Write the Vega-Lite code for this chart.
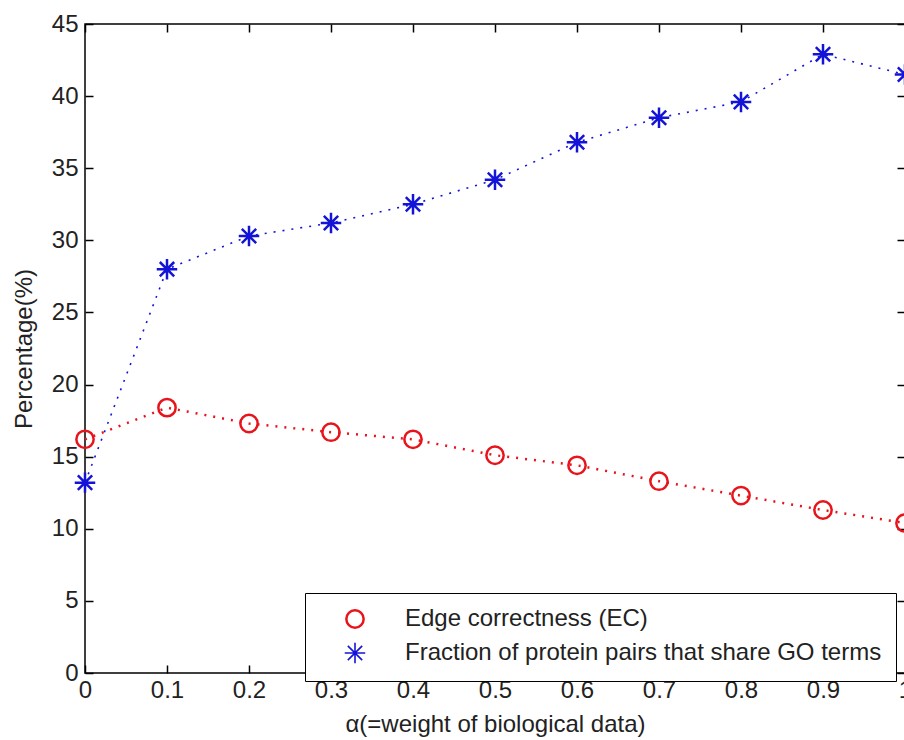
{
  "$schema": "https://vega.github.io/schema/vega-lite/v6.json",
  "autosize": {"type": "none"},
  "padding": {"left": 85, "top": 24, "right": 0, "bottom": 67},
  "width": 820,
  "height": 649,
  "background": "white",
  "config": {
    "view": {"stroke": "black", "strokeWidth": 1.5},
    "axis": {
      "grid": false,
      "domain": false,
      "tickColor": "black",
      "tickWidth": 1.5,
      "tickSize": 8,
      "offset": -8,
      "labelFlush": false,
      "labelFont": "Liberation Sans",
      "labelFontSize": 24,
      "labelColor": "#222",
      "titleFont": "Liberation Sans",
      "titleFontSize": 24,
      "titleFontWeight": "normal",
      "titleColor": "#222"
    },
    "legend": {
      "labelFont": "Liberation Sans",
      "labelFontSize": 24,
      "labelColor": "#222"
    }
  },
  "data": {
    "values": [
      {"alpha": 0.0, "value": 16.2, "series": "Edge correctness (EC)"},
      {"alpha": 0.1, "value": 18.4, "series": "Edge correctness (EC)"},
      {"alpha": 0.2, "value": 17.3, "series": "Edge correctness (EC)"},
      {"alpha": 0.3, "value": 16.7, "series": "Edge correctness (EC)"},
      {"alpha": 0.4, "value": 16.2, "series": "Edge correctness (EC)"},
      {"alpha": 0.5, "value": 15.1, "series": "Edge correctness (EC)"},
      {"alpha": 0.6, "value": 14.4, "series": "Edge correctness (EC)"},
      {"alpha": 0.7, "value": 13.3, "series": "Edge correctness (EC)"},
      {"alpha": 0.8, "value": 12.3, "series": "Edge correctness (EC)"},
      {"alpha": 0.9, "value": 11.3, "series": "Edge correctness (EC)"},
      {"alpha": 1.0, "value": 10.4, "series": "Edge correctness (EC)"},
      {"alpha": 0.0, "value": 13.2, "series": "Fraction of protein pairs that share GO terms"},
      {"alpha": 0.1, "value": 28.0, "series": "Fraction of protein pairs that share GO terms"},
      {"alpha": 0.2, "value": 30.3, "series": "Fraction of protein pairs that share GO terms"},
      {"alpha": 0.3, "value": 31.2, "series": "Fraction of protein pairs that share GO terms"},
      {"alpha": 0.4, "value": 32.5, "series": "Fraction of protein pairs that share GO terms"},
      {"alpha": 0.5, "value": 34.2, "series": "Fraction of protein pairs that share GO terms"},
      {"alpha": 0.6, "value": 36.8, "series": "Fraction of protein pairs that share GO terms"},
      {"alpha": 0.7, "value": 38.5, "series": "Fraction of protein pairs that share GO terms"},
      {"alpha": 0.8, "value": 39.6, "series": "Fraction of protein pairs that share GO terms"},
      {"alpha": 0.9, "value": 42.9, "series": "Fraction of protein pairs that share GO terms"},
      {"alpha": 1.0, "value": 41.5, "series": "Fraction of protein pairs that share GO terms"}
    ]
  },
  "layer": [
    {
      "mark": {"type": "line", "strokeDash": [2, 7], "clip": false},
      "encoding": {
        "x": {
          "field": "alpha", "type": "quantitative",
          "scale": {"domain": [0, 1], "nice": false, "zero": false},
          "axis": {
            "orient": "bottom",
            "values": [0, 0.1, 0.2, 0.3, 0.4, 0.5, 0.6, 0.7, 0.8, 0.9, 1],
            "format": "~g",
            "labelFontSize": 24,
            "labelPadding": 5,
            "title": "α(=weight of biological data)",
            "titlePadding": 10
          }
        },
        "y": {
          "field": "value", "type": "quantitative",
          "scale": {"domain": [0, 45], "nice": false},
          "axis": {
            "orient": "left",
            "values": [0, 5, 10, 15, 20, 25, 30, 35, 40, 45],
            "labelFontSize": 24,
            "labelPadding": 7,
            "title": "Percentage(%)",
            "titlePadding": 15
          }
        },
        "color": {
          "field": "series", "type": "nominal",
          "scale": {
            "domain": ["Edge correctness (EC)", "Fraction of protein pairs that share GO terms"],
            "range": ["#e8141c", "#1414d8"]
          },
          "legend": {
            "orient": "none",
            "legendX": 220,
            "legendY": 569,
            "title": null,
            "fillColor": "white",
            "strokeColor": "black",
            "padding": 14,
            "rowPadding": 6,
            "symbolOffset": 24,
            "symbolSize": 200,
            "symbolStrokeWidth": 2,
            "labelOffset": 38,
            "labelLimit": 900
          }
        },
        "strokeWidth": {
          "field": "series", "type": "nominal",
          "scale": {
            "domain": ["Edge correctness (EC)", "Fraction of protein pairs that share GO terms"],
            "range": [2.5, 1.6]
          },
          "legend": null
        }
      }
    },
    {
      "mark": {"type": "point", "filled": false, "strokeWidth": 2.5, "opacity": 1, "clip": false},
      "encoding": {
        "x": {
          "field": "alpha", "type": "quantitative",
          "axis": {
            "orient": "top",
            "values": [0, 0.1, 0.2, 0.3, 0.4, 0.5, 0.6, 0.7, 0.8, 0.9, 1],
            "labels": false, "title": null
          }
        },
        "y": {
          "field": "value", "type": "quantitative",
          "axis": {
            "orient": "right",
            "values": [0, 5, 10, 15, 20, 25, 30, 35, 40, 45],
            "labels": false, "title": null
          }
        },
        "color": {"field": "series", "type": "nominal"},
        "shape": {
          "field": "series", "type": "nominal",
          "scale": {
            "domain": ["Edge correctness (EC)", "Fraction of protein pairs that share GO terms"],
            "range": ["circle", "M-1,0L1,0M0,-1L0,1M-0.7,-0.7L0.7,0.7M-0.7,0.7L0.7,-0.7"]
          }
        },
        "size": {
          "field": "series", "type": "nominal",
          "scale": {
            "domain": ["Edge correctness (EC)", "Fraction of protein pairs that share GO terms"],
            "range": [300, 420]
          },
          "legend": null
        }
      }
    }
  ],
  "resolve": {"axis": {"x": "independent", "y": "independent"}}
}
